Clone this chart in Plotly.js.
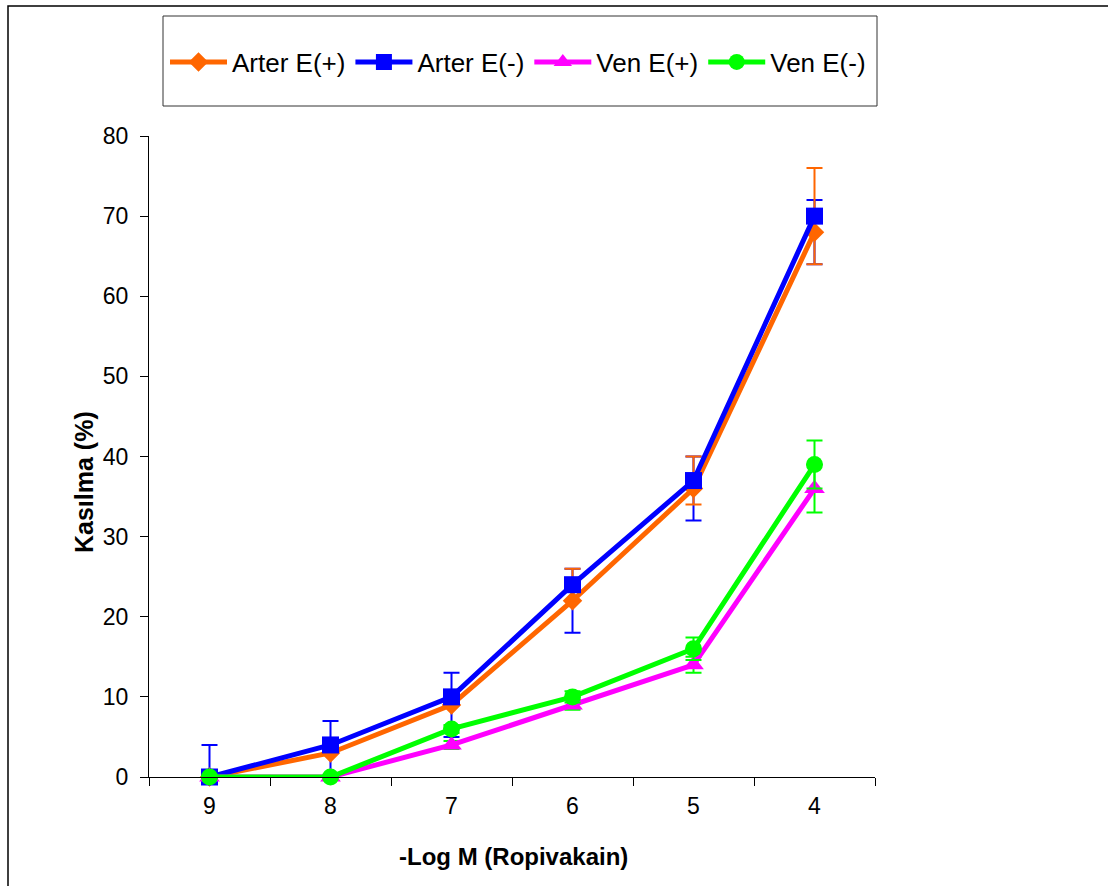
<!DOCTYPE html>
<html>
<head>
<meta charset="utf-8">
<script src="https://cdn.plot.ly/plotly-3.0.1.min.js"></script>
<style>
  html, body { margin: 0; padding: 0; background: #ffffff; }
  #chart { width: 1108px; height: 886px; }
</style>
</head>
<body>
<div id="chart"></div>
<script>
// ---- data ----
var doses = ["9", "8", "7", "6", "5", "4"];

var arterPlus  = [0, 3, 9, 22, 36, 68];
var arterMinus = [0, 4, 10, 24, 37, 70];
var venPlus    = [0, 0, 4, 9, 14, 36];
var venMinus   = [0, 0, 6, 10, 16, 39];

// error bars (plus / minus part as visible in the picture)
var arterPlusErrUp   = [4, 4, 4, 4, 4, 4];
var arterPlusErrDown = [0, 3, 4, 4, 4, 4];
var arterMinusErrUp   = [0, 0, 0.5, 2, 3, 6];
var arterMinusErrDown = [0, 0, 0.5, 2, 3, 6];
var venPlusErr  = [0, 0, 0.5, 0.6, 1, 3];
var venMinusErr = [0, 0, 0.5, 0.7, 1.4, 3];

var seriesNames = ["Arter E(+)", "Arter E(-)", "Ven E(+)", "Ven E(-)"];

var ORANGE = "#FF6600", BLUE = "#0000FF", MAGENTA = "#FF00FF", GREEN = "#00FF00";

function trace(name, y, color, symbol, size, errUp, errDown, errColor) {
  return {
    type: "scatter",
    mode: "lines+markers",
    name: name,
    x: doses,
    y: y,
    cliponaxis: false,
    line: { color: color, width: 5 },
    marker: { color: color, symbol: symbol, size: size, line: { width: 0 } },
    error_y: {
      type: "data",
      symmetric: false,
      array: errUp,
      arrayminus: errDown,
      color: errColor,
      thickness: 2,
      width: 8,
      visible: true
    }
  };
}

var data = [
  trace(seriesNames[0], arterPlus,  ORANGE,  "diamond",     15, arterPlusErrUp,  arterPlusErrDown,  BLUE),
  trace(seriesNames[1], arterMinus, BLUE,    "square",      17, arterMinusErrUp, arterMinusErrDown, ORANGE),
  trace(seriesNames[2], venPlus,    MAGENTA, "triangle-up", 18, venPlusErr,      venPlusErr,        GREEN),
  trace(seriesNames[3], venMinus,   GREEN,   "circle",      17, venMinusErr,     venMinusErr,       GREEN)
];

// plot area in pixels: x 149..875, y 136..777
var L = 149, R = 875, T = 136, B = 777, W = 1108, H = 886;
function px(x) { return (x - L) / (R - L); }
function py(y) { return (B - y) / (B - T); }

var layout = {
  width: W,
  height: H,
  margin: { l: L, r: W - R, t: T, b: H - B, pad: 0 },
  paper_bgcolor: "#ffffff",
  plot_bgcolor: "#ffffff",
  font: { family: "Liberation Sans, Arial, sans-serif", color: "#000000", size: 23 },
  showlegend: true,
  legend: {
    orientation: "h",
    x: px(518), xanchor: "center",
    y: py(62), yanchor: "middle",
    bgcolor: "rgba(0,0,0,0)",
    borderwidth: 0,
    font: { size: 26, family: "Liberation Sans, Arial, sans-serif" },
    itemwidth: 57,
    tracegroupgap: 0
  },
  xaxis: {
    type: "category",
    range: [-0.5, 5.5],
    showgrid: false,
    zeroline: false,
    showline: true,
    linecolor: "#000000",
    linewidth: 1,
    ticks: "outside",
    tickson: "boundaries",
    ticklen: 8,
    tickcolor: "#000000",
    tickfont: { size: 23 },
    ticklabelstandoff: 8,
    fixedrange: true
  },
  yaxis: {
    range: [0, 80],
    dtick: 10,
    tick0: 0,
    showgrid: false,
    zeroline: false,
    showline: true,
    linecolor: "#000000",
    linewidth: 1,
    ticks: "outside",
    ticklen: 8,
    tickcolor: "#000000",
    tickfont: { size: 23 },
    ticklabelstandoff: 7,
    fixedrange: true
  },
  annotations: [
    {
      text: "<b>Kasılma (%)</b>",
      xref: "paper", yref: "paper",
      x: px(84), y: py(482),
      xanchor: "center", yanchor: "middle",
      textangle: -90,
      showarrow: false,
      font: { size: 25 }
    },
    {
      text: "<b>-Log M (Ropivakain)</b>",
      xref: "paper", yref: "paper",
      x: px(513), y: py(857),
      xanchor: "center", yanchor: "middle",
      showarrow: false,
      font: { size: 24 }
    }
  ],
  shapes: [
    {
      type: "rect", xref: "paper", yref: "paper",
      x0: px(8), x1: px(1120), y0: py(900), y1: py(6),
      line: { color: "#000000", width: 1.5 },
      fillcolor: "rgba(0,0,0,0)",
      layer: "below"
    },
    {
      type: "rect", xref: "paper", yref: "paper",
      x0: px(163), x1: px(877), y0: py(106), y1: py(16),
      line: { color: "#333333", width: 1 },
      fillcolor: "rgba(0,0,0,0)",
      layer: "below"
    }
  ]
};

Plotly.newPlot("chart", data, layout, { staticPlot: true, displayModeBar: false });
</script>
</body>
</html>
